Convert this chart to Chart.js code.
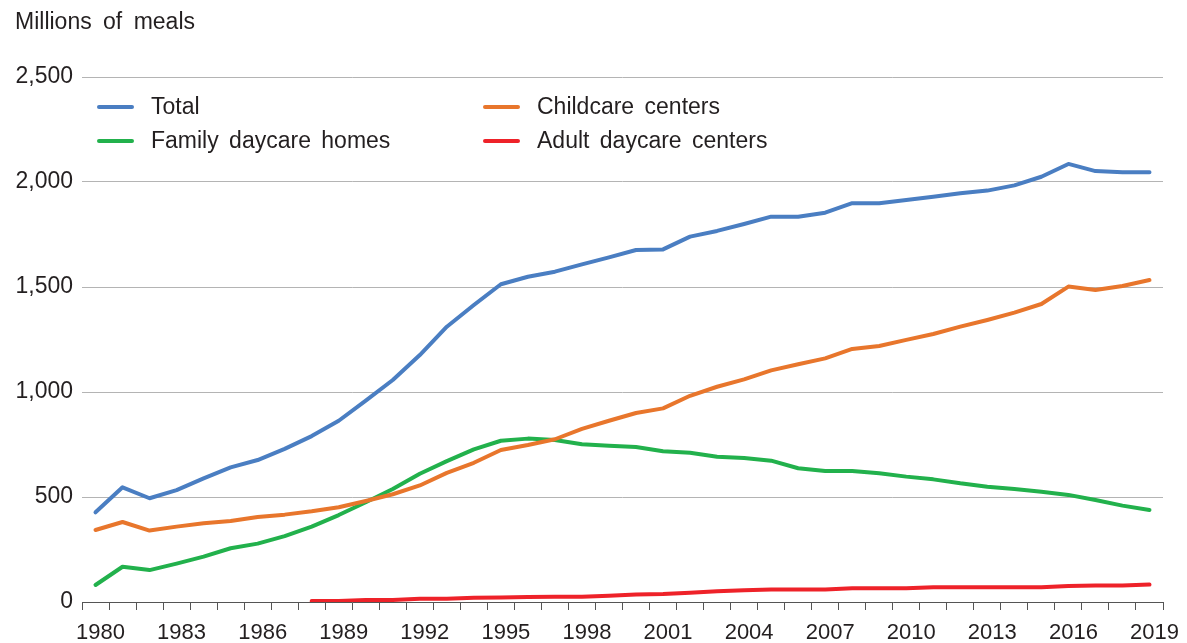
<!DOCTYPE html>
<html>
<head>
<meta charset="utf-8">
<script src="https://cdn.jsdelivr.net/npm/chart.js@4/dist/chart.umd.min.js"></script>
<style>
  html, body { margin: 0; padding: 0; background: #fff; }
  #wrap { position: relative; width: 1187px; height: 643px; font-family: "Liberation Sans", Arial, sans-serif; color: #231f20; }
  #mealsChart { position: absolute; left: 0; top: 0; }
  .unit { position: absolute; left: 15px; top: 8px; font-size: 23px; word-spacing: 5px; }
  .legend-item { position: absolute; font-size: 23px; line-height: 26px; word-spacing: 4px; white-space: nowrap; }
  .legend-item .swatch { position: absolute; left: 0; top: 12px; width: 37px; height: 4px; border-radius: 2px; }
  .legend-item span.txt { margin-left: 54px; }
</style>
</head>
<body>
<div id="wrap">
  <canvas id="mealsChart" width="1187" height="643"></canvas>
  <div class="unit">Millions of meals</div>
  <div id="legend"></div>
</div>
<script>
// Meals served, millions, 1980-2019
const years = [];
for (let y = 1980; y <= 2019; y++) years.push(String(y));

const totalMeals = [427, 546, 494, 533, 589, 641, 676, 729, 790, 863,
  959, 1057, 1176, 1311, 1414, 1513, 1549, 1573, 1608, 1641,
  1676, 1679, 1740, 1767, 1800, 1835, 1835, 1854, 1899, 1899,
  1914, 1930, 1946, 1959, 1984, 2025, 2086, 2052, 2046, 2046];

const childcareCenters = [343, 381, 340, 359, 375, 386, 405, 416, 432, 451,
  481, 513, 555, 615, 663, 724, 748, 775, 824, 863,
  900, 922, 982, 1025, 1060, 1103, 1132, 1160, 1205, 1219,
  1248, 1276, 1311, 1343, 1378, 1419, 1502, 1486, 1505, 1533];

const familyDaycare = [81, 168, 152, 183, 216, 256, 278, 314, 359, 414,
  475, 538, 611, 671, 727, 768, 778, 771, 751, 744,
  738, 718, 711, 692, 686, 673, 637, 624, 624, 613,
  597, 584, 565, 549, 538, 525, 510, 486, 459, 438];

// adult daycare starts in 1988
const adultDaycare = [null, null, null, null, null, null, null, null, 5, 5,
  10, 10, 16, 16, 20, 21, 24, 25, 25, 30,
  36, 38, 44, 51, 56, 60, 60, 60, 65, 65,
  65, 70, 70, 70, 70, 70, 76, 78, 78, 83];

const yTicks = [0, 500, 1000, 1500, 2000, 2500];

const series = [
  { label: "Total", data: totalMeals, color: "#4a7ec2" },
  { label: "Childcare centers", data: childcareCenters, color: "#e8762c" },
  { label: "Family daycare homes", data: familyDaycare, color: "#22b14c" },
  { label: "Adult daycare centers", data: adultDaycare, color: "#ee2229" }
];

// legend, two columns
const legendPos = [[97, 93], [483, 93], [97, 127], [483, 127]];
const legendBox = document.getElementById("legend");
series.forEach((s, i) => {
  const item = document.createElement("div");
  item.className = "legend-item";
  item.style.left = legendPos[i][0] + "px";
  item.style.top = legendPos[i][1] + "px";
  item.innerHTML = '<div class="swatch" style="background:' + s.color + '"></div><span class="txt">' + s.label + '</span>';
  legendBox.appendChild(item);
});

const ctx = document.getElementById("mealsChart");
new Chart(ctx, {
  type: "line",
  data: {
    labels: years,
    datasets: series.map(s => ({
      label: s.label,
      data: s.data,
      borderColor: s.color,
      backgroundColor: s.color,
      borderWidth: 4,
      pointRadius: 0,
      tension: 0,
      borderCapStyle: "round",
      borderJoinStyle: "round",
      spanGaps: false
    }))
  },
  options: {
    responsive: false,
    animation: false,
    layout: { padding: { left: 0, right: 24, top: 77, bottom: 0 } },
    plugins: {
      legend: { display: false },
      tooltip: { enabled: false }
    },
    scales: {
      x: {
        type: "category",
        offset: true,
        grid: {
          offset: true,
          drawOnChartArea: false,
          drawTicks: true,
          tickLength: 8,
          color: "#555",
          lineWidth: 1
        },
        border: { display: true, color: "#555", width: 1 },
        ticks: {
          autoSkip: false,
          maxRotation: 0,
          labelOffset: 5,
          padding: 10,
          color: "#231f20",
          font: { family: "Liberation Sans", size: 22 },
          callback: function (value, index) {
            return index % 3 === 0 ? years[index] : "";
          }
        },
        afterFit: function (scale) { scale.height = 41; }
      },
      y: {
        min: 0,
        max: 2500,
        afterBuildTicks: function (scale) {
          scale.ticks = yTicks.map(v => ({ value: v }));
        },
        grid: { drawTicks: false, color: "#b4b4b4", lineWidth: 1 },
        border: { display: false },
        ticks: {
          padding: 9,
          color: "#231f20",
          font: { family: "Liberation Sans", size: 23 },
          callback: v => v.toLocaleString("en-US")
        },
        afterFit: function (scale) { scale.width = 82; }
      }
    }
  }
});
</script>
</body>
</html>
